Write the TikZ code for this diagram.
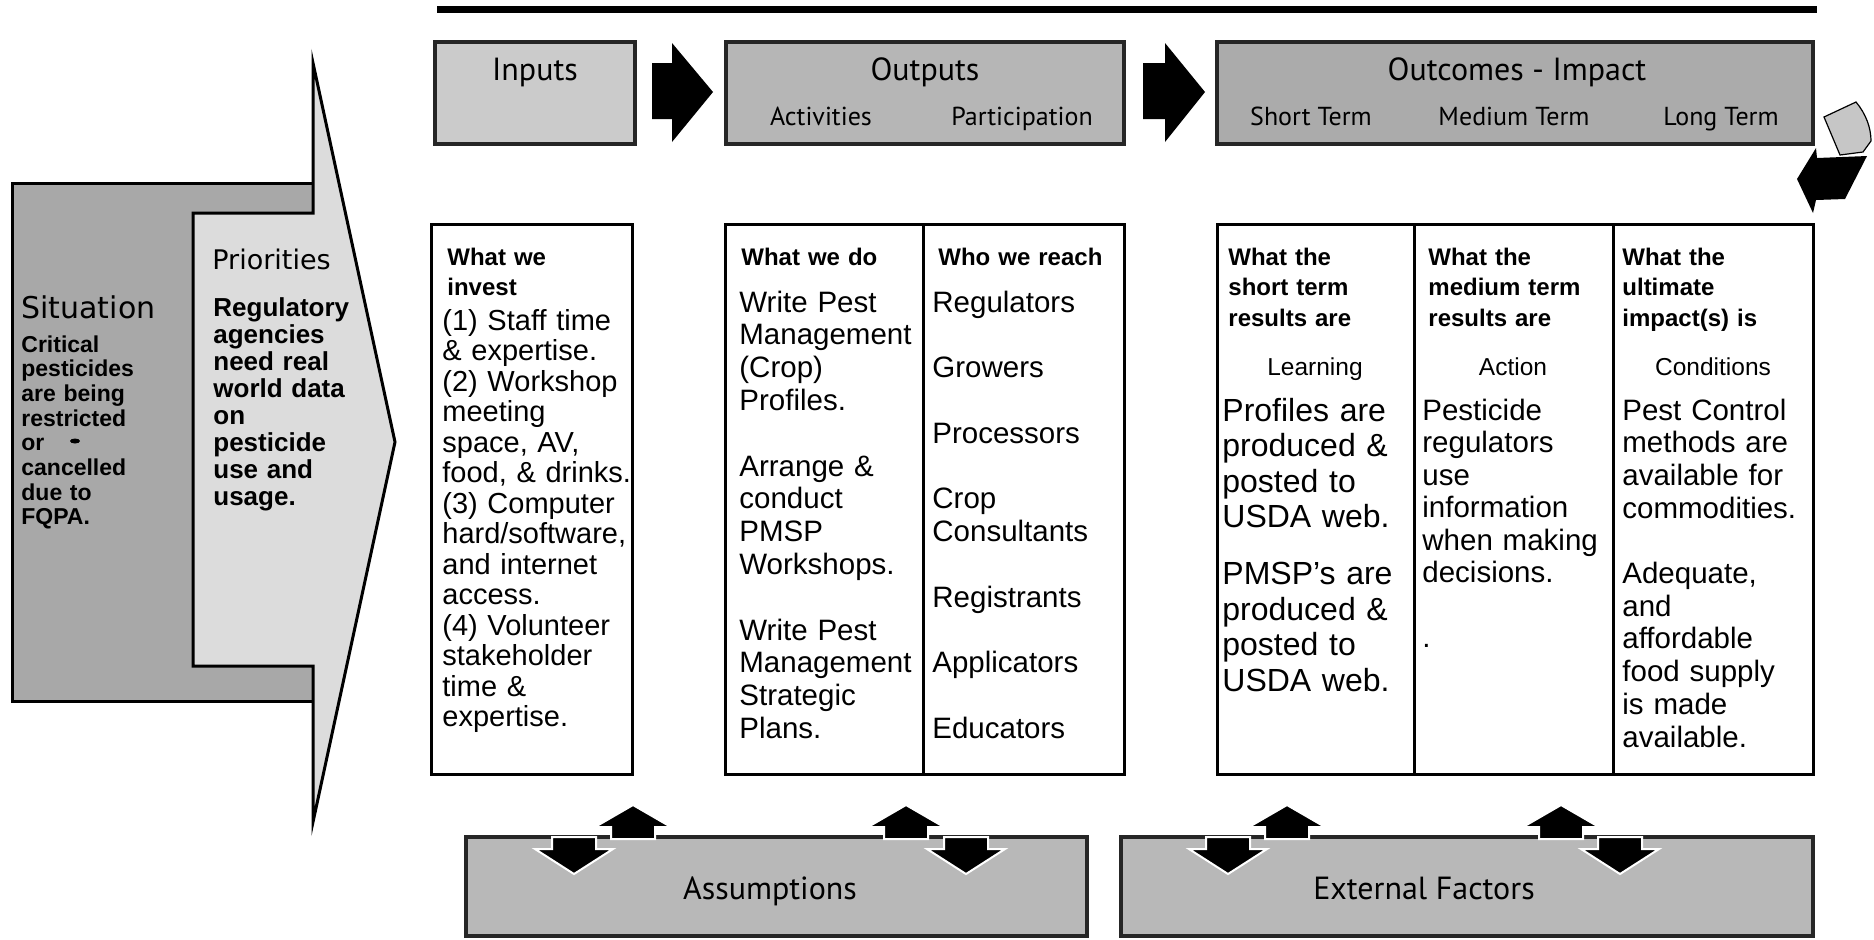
\documentclass[tikz,border=0pt]{standalone}
\usepackage{fontspec}
\setmainfont{Liberation Sans}
\newfontfamily\hdrfont{PT Sans}
\newfontfamily\dvfont{DejaVu Sans}
\definecolor{sitgray}{HTML}{A8A8A8}
\definecolor{prigray}{HTML}{DCDCDC}
\definecolor{ingray}{HTML}{CBCBCB}
\definecolor{outgray}{HTML}{B6B6B6}
\definecolor{outcgray}{HTML}{ABABAB}
\definecolor{botgray}{HTML}{B8B8B8}
\tikzset{
  hdrbox/.style={draw=black!85, line width=2pt},
  bodybox/.style={draw=black, line width=1.5pt, fill=white},
  blockarrow/.style={fill=black},
  vtarrow/.style={fill=black, draw=white, line width=1pt},
  txt/.style={anchor=base west, inner sep=0pt, text width=150pt, align=left},
  hlabel/.style={anchor=base, inner sep=0pt, font=\hdrfont\fontsize{16}{18}\selectfont},
  slabel/.style={anchor=base, inner sep=0pt, font=\hdrfont\fontsize{13}{15}\selectfont},
  colhead/.style={txt, font=\bfseries\fontsize{12}{15.25}\selectfont},
  bodytxt/.style={txt, font=\fontsize{14.75}{16.4}\selectfont},
}
\begin{document}
\begin{tikzpicture}[x=0.5pt,y=-0.5pt]
\useasboundingbox (0,0) rectangle (1874,939);

% top rule
\draw[line width=3.5pt] (437,9) -- (1817,9);

% ---------- situation / priorities ----------
\filldraw[fill=sitgray, draw=black, line width=1.5pt] (12,183) rectangle (313,701);
\filldraw[fill=prigray, draw=black, line width=1.5pt]
  (313,63) -- (395,442) -- (313,822) -- (313,666) -- (193,666) -- (193,213) -- (313,213) -- cycle;
\node[txt, font=\dvfont\fontsize{15}{17}\selectfont] (sittitle) at (21,318) {Situation};
\node[txt, font=\bfseries\fontsize{11.5}{12.35}\selectfont] (sitbody) at (21,352)
  {Critical\\pesticides\\are being\\restricted\\or\\cancelled\\due to\\FQPA.};
\fill[black] (75,441) ellipse (5 and 2.5);
\node[txt, font=\dvfont\fontsize{13.5}{15}\selectfont] (prititle) at (212,269) {Priorities};
\node[txt, font=\bfseries\fontsize{13}{13.5}\selectfont] (pribody) at (213,316)
  {Regulatory\\agencies\\need real\\world data\\on\\pesticide\\use and\\usage.};

% ---------- header boxes ----------
\filldraw[hdrbox, fill=ingray] (435,42) rectangle (635,144);
\filldraw[hdrbox, fill=outgray] (726,42) rectangle (1124,144);
\filldraw[hdrbox, fill=outcgray] (1217,42) rectangle (1813,144);
\node[hlabel] (inputs) at (535,80) {Inputs};
\node[hlabel] (outputs) at (925,80) {Outputs};
\node[hlabel] (outcomes) at (1517,80) {Outcomes - Impact};
\node[slabel] (activities) at (821,125) {Activities};
\node[slabel] (participation) at (1022,125) {Participation};
\node[slabel] (shortterm) at (1311,125) {Short Term};
\node[slabel] (mediumterm) at (1514,125) {Medium Term};
\node[slabel] (longterm) at (1721,125) {Long Term};

% block arrows between headers
\fill[blockarrow] (652,63) -- (672,63) -- (672,43) -- (713,92) -- (672,142) -- (672,119) -- (652,119) -- cycle;
\fill[blockarrow] (1143,63) -- (1165,63) -- (1165,43) -- (1205,92) -- (1165,142) -- (1165,119) -- (1143,119) -- cycle;

% corner loop-back symbol
\filldraw[fill=gray!45, draw=black, line width=0.6pt]
  (1824,117) -- (1856,102) .. controls (1866,114) and (1871,128) .. (1871,141) -- (1863,152) -- (1840,155) -- cycle;
\fill[black] (1797,179) -- (1816,148) -- (1817,158) -- (1867,156) -- (1845,199) -- (1816,200) -- (1813,213) -- cycle;

% ---------- body boxes ----------
\filldraw[bodybox] (431,224) rectangle (632,774);
\filldraw[bodybox] (725,224) rectangle (1124,774);
\draw[line width=1.5pt] (923,224) -- (923,774);
\filldraw[bodybox] (1217,224) rectangle (1813,774);
\draw[line width=1.5pt] (1414,224) -- (1414,774);
\draw[line width=1.5pt] (1613,224) -- (1613,774);

% inputs column
\node[colhead] (investhead) at (447,265) {What we\\invest};
\node[txt, font=\fontsize{14.5}{15.25}\selectfont] (investbody) at (442,330)
  {(1) Staff time\\\& expertise.\\(2) Workshop\\meeting\\space, AV,\\food, \& drinks.\\(3) Computer\\hard/software,\\and internet\\access.\\(4) Volunteer\\stakeholder\\time \&\\expertise.};

% outputs columns
\node[colhead] (dohead) at (741,265) {What we do};
\node[colhead] (reachhead) at (938,265) {Who we reach};
\node[bodytxt] (dobody) at (739,312)
  {Write Pest\\Management\\(Crop)\\Profiles.\\[16.4pt]Arrange \&\\conduct\\PMSP\\Workshops.\\[16.4pt]Write Pest\\Management\\Strategic\\Plans.};
\node[bodytxt] (reachbody) at (932,312)
  {Regulators\\[16.4pt]Growers\\[16.4pt]Processors\\[16.4pt]Crop\\Consultants\\[16.4pt]Registrants\\[16.4pt]Applicators\\[16.4pt]Educators};

% outcomes columns
\node[colhead] (shorthead) at (1228,265) {What the\\short term\\results are};
\node[colhead] (mediumhead) at (1428,265) {What the\\medium term\\results are};
\node[colhead] (longhead) at (1622,265) {What the\\ultimate\\impact(s) is};
\node[anchor=base, inner sep=0pt, font=\fontsize{12.25}{14}\selectfont] (learning) at (1315,375) {Learning};
\node[anchor=base, inner sep=0pt, font=\fontsize{12.25}{14}\selectfont] (action) at (1513,375) {Action};
\node[anchor=base, inner sep=0pt, font=\fontsize{12.25}{14}\selectfont] (conditions) at (1713,375) {Conditions};
\node[txt, font=\fontsize{16}{17.75}\selectfont] (shortbody) at (1222,421)
  {Profiles are\\produced \&\\posted to\\USDA web.\\[10.75pt]PMSP’s are\\produced \&\\posted to\\USDA web.};
\node[txt, font=\fontsize{14.75}{16.25}\selectfont] (mediumbody) at (1422,420)
  {Pesticide\\regulators\\use\\information\\when making\\decisions.\\[16.25pt].};
\node[txt, font=\fontsize{14.75}{16.35}\selectfont] (longbody) at (1622,420)
  {Pest Control\\methods are\\available for\\commodities.\\[16.35pt]Adequate,\\and\\affordable\\food supply\\is made\\available.};

% ---------- bottom boxes ----------
\filldraw[hdrbox, fill=botgray] (466,837) rectangle (1087,936);
\filldraw[hdrbox, fill=botgray] (1121,837) rectangle (1813,936);
\node[hlabel] (assumptions) at (770,899) {Assumptions};
\node[hlabel] (external) at (1424,899) {External Factors};

% up / down arrows on bottom boxes
\foreach \cx in {633,906,1287,1561}{
  \filldraw[vtarrow] (\cx,805) -- (\cx+38,827) -- (\cx+22,827) -- (\cx+22,839) -- (\cx-22,839) -- (\cx-22,827) -- (\cx-38,827) -- cycle;
}
\foreach \cx in {574,966,1228,1620}{
  \filldraw[vtarrow] (\cx-22,837) -- (\cx+22,837) -- (\cx+22,849) -- (\cx+39,849) -- (\cx,874) -- (\cx-39,849) -- (\cx-22,849) -- cycle;
}
\end{tikzpicture}
\end{document}
